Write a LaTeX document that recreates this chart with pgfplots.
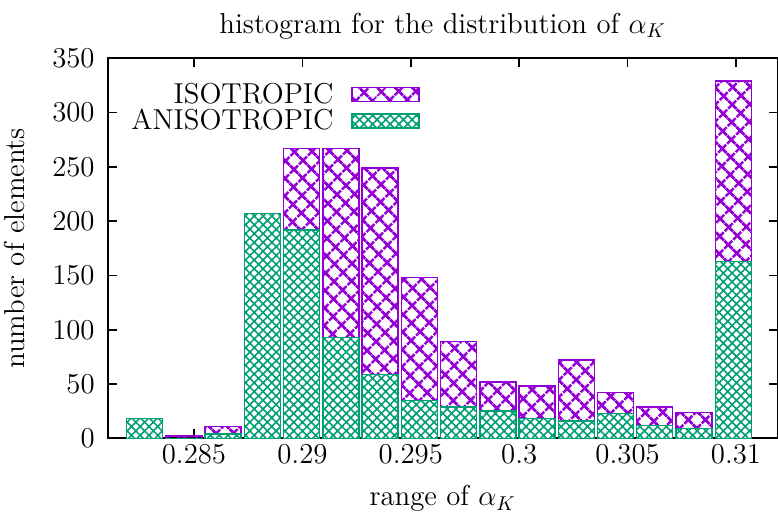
\documentclass[border=0pt]{standalone}
\usepackage{fix-cm}
\usepackage{pgfplots}
\usepackage{pgfplotstable}
\pgfplotsset{compat=1.18}
\usetikzlibrary{patterns.meta}

\definecolor{isoviolet}{HTML}{9400D3}
\definecolor{anisogreen}{HTML}{009E73}

\pgfplotsset{boxlegend/.style={legend image code/.code={\path (0pt,0pt); \draw[##1] (7.5pt,-3.5pt) rectangle (41pt,3.5pt);}}}

% bin centre, anisotropic count, total (anisotropic + isotropic) count
\pgfplotstableread{
x        aniso total
0.282726 18    18
0.284536 0     2
0.286345 4     11
0.288155 207   207
0.289965 192   267
0.291774 93    267
0.293584 59    249
0.295394 35    148
0.297203 29    89
0.299013 25    52
0.300823 18    48
0.302632 16    72
0.304442 23    42
0.306252 12    29
0.308061 9     24
0.309871 163   329
}\bins

\begin{document}
\begin{tikzpicture}[font=\fontsize{14.4}{17}\selectfont]
\begin{axis}[
  at={(0pt,0pt)}, anchor=south west,
  scale only axis, width=335pt, height=190pt,
  xmin=0.281019, xmax=0.311923, ymin=0, ymax=350,
  ybar, bar width=0.00166, bar shift=0pt,
  xtick={0.285,0.29,0.295,0.3,0.305,0.31},
  ytick={0,50,100,150,200,250,300,350},
  /pgf/number format/precision=3,
  tick align=inside, tick pos=both, major tick length=4.5pt,
  axis line style={line width=0.9pt},
  every tick/.style={black, line width=0.8pt},
  yticklabel style={xshift=-3pt},
  title={histogram for the distribution of $\alpha_K$},
  xlabel={range of $\alpha_K$},
  ylabel={number of elements},
  xlabel shift=4pt, ylabel shift=7pt,
  legend plot pos=right,
  legend cell align=right,
  legend style={draw=none, fill=none, at={(0.4755,0.955)}, anchor=north east,
    nodes={inner sep=1.5pt}, row sep=-1.5pt},
]
% isotropic part: bar up to the total, lower part hidden under the anisotropic bar
\addplot[draw=isoviolet, line width=0.7pt,
  pattern={Hatch[angle=45,distance=6.4pt,line width=1.5pt]}, pattern color=isoviolet,
  boxlegend]
  table[x=x,y=total]{\bins};
\addlegendentry{ISOTROPIC}
\addplot[draw=anisogreen, line width=0.7pt, preaction={fill=white},
  pattern={Hatch[angle=45,distance=3.1pt,line width=0.8pt]}, pattern color=anisogreen,
  boxlegend]
  table[x=x,y=aniso]{\bins};
\addlegendentry{ANISOTROPIC}
\end{axis}
\pgfresetboundingbox
\path[use as bounding box] (-53.85pt,-42.35pt) rectangle (335.15pt,219.15pt);
\end{tikzpicture}
\end{document}
